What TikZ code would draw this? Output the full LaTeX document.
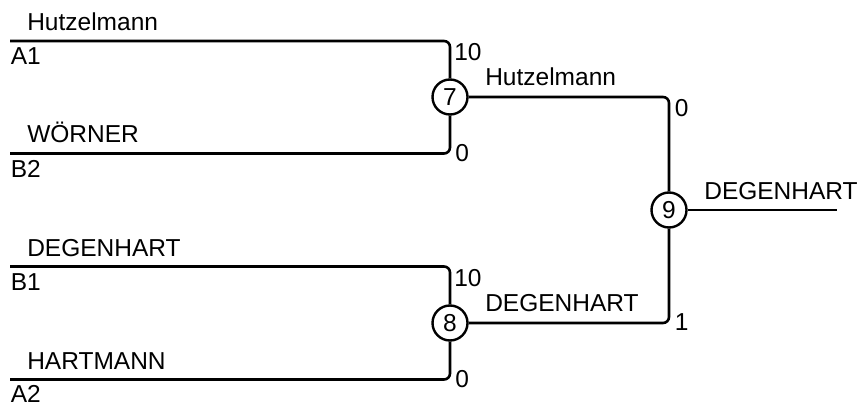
\documentclass[tikz,border=0pt]{standalone}
\usepackage{fontspec}
\setmainfont{Liberation Sans}
\begin{document}
\begin{tikzpicture}[x=1pt,y=-1pt, line width=2.6pt,
  lbl/.style={inner sep=0pt, font=\fontsize{24.5}{28}\selectfont},
  game/.style={circle, draw, minimum size=35pt, inner sep=0pt, line width=2.4pt, font=\fontsize{24.5}{28}\selectfont},
  wire/.style={rounded corners=6pt}]
\useasboundingbox (0,0) rectangle (861,403);
% games
\node[game] (m7) at (450,97) {7};
\node[game] (m8) at (450,323) {8};
\node[game] (m9) at (669,210) {9};
% free ends
\coordinate (a1) at (10,41);
\coordinate (b2) at (10,153.5);
\coordinate (b1) at (10,266.5);
\coordinate (a2) at (10,379.5);
\coordinate (out) at (837,210);
% wires
\draw[wire] (a1) -| (m7.north);
\draw[wire] (b2) -| (m7.south);
\draw[wire] (b1) -| (m8.north);
\draw[wire] (a2) -| (m8.south);
\draw[wire] (m7.east) -| (m9.north);
\draw[wire] (m8.east) -| (m9.south);
\draw (m9.east) -- (out);
% player labels
\node[lbl, anchor=base west] (n1) at (26,30.5) {Hutzelmann};
\node[lbl, anchor=north west] (s1) at (9.5,46.5) {A1};
\node[lbl, anchor=base west] (n2) at (26,143) {WÖRNER};
\node[lbl, anchor=north west] (s2) at (9.5,159.5) {B2};
\node[lbl, anchor=base west] (n3) at (26,256) {DEGENHART};
\node[lbl, anchor=north west] (s3) at (9.5,272.5) {B1};
\node[lbl, anchor=base west] (n4) at (26,369) {HARTMANN};
\node[lbl, anchor=north west] (s4) at (9.5,384.5) {A2};
% scores
\node[lbl, anchor=north west] (p1) at (453,42.5) {10};
\node[lbl, anchor=west] (p2) at (454,153.5) {0};
\node[lbl, anchor=north west] (p3) at (453,268.5) {10};
\node[lbl, anchor=west] (p4) at (454,379.5) {0};
\node[lbl, anchor=north west] (p5) at (673.5,98.5) {0};
\node[lbl, anchor=west] (p6) at (673.5,322) {1};
% winners
\node[lbl, anchor=base west] (w1) at (484,86) {Hutzelmann};
\node[lbl, anchor=base west] (w2) at (484,311.5) {DEGENHART};
\node[lbl, anchor=base west] (w3) at (703,199.3) {DEGENHART};
\end{tikzpicture}
\end{document}
